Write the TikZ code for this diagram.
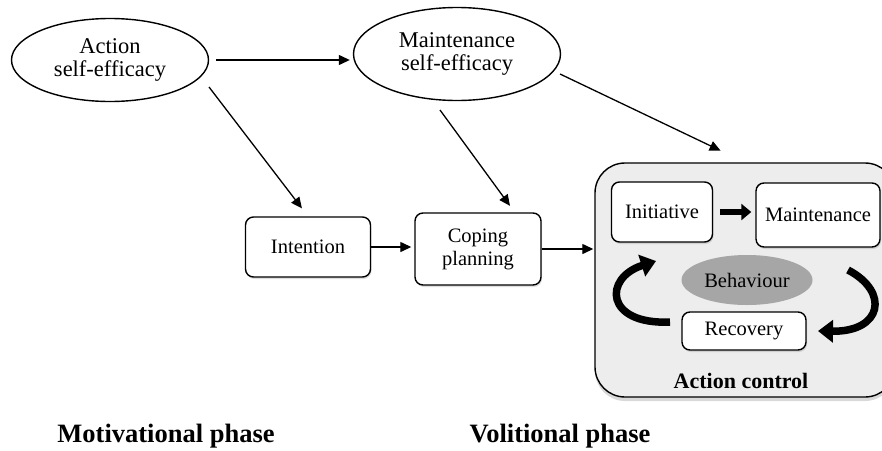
\documentclass[tikz,border=0pt]{standalone}
\usepackage{fontspec}
\setmainfont{Liberation Serif}
\usetikzlibrary{shapes.geometric,arrows.meta,shadows}

\tikzset{
  txt/.style={font=\fontsize{20.5}{23}\selectfont, align=center, inner sep=0pt},
  oval/.style={ellipse, draw, line width=1.4pt, fill=white, txt,
    font=\fontsize{22.5}{23}\selectfont},
  box/.style={rectangle, draw, line width=1.4pt, rounded corners=8pt, fill=white, txt,
    drop shadow={shadow xshift=1pt, shadow yshift=-2pt, opacity=0.25}},
  arr/.style={line width=1.3pt, -{Triangle[length=11pt,width=10pt]}},
  fatarr/.style={line width=6pt, -{Triangle[length=10pt,width=16pt]}},
  curvearr/.style={line width=7.5pt, -{Triangle[length=15pt,width=22pt]}},
  phase/.style={font=\fontsize{26.5}{28}\selectfont\bfseries, inner sep=0pt},
}

\begin{document}
\begin{tikzpicture}[x=1pt, y=-1pt]
  \useasboundingbox (0,0) rectangle (882,450);

  % action control container
  \node[rectangle, draw, line width=1.4pt, rounded corners=30pt, fill=black!7,
        minimum width=300pt, minimum height=234pt, inner sep=0pt,
        drop shadow={shadow xshift=0pt, shadow yshift=-4pt, opacity=0.3}]
        (ac) at (745,280) {};
  \node[font=\fontsize{22}{24}\selectfont\bfseries, inner sep=0pt] (aclabel) at (741,381) {Action control};

  % self-efficacy ellipses
  \node[oval, minimum width=197pt, minimum height=83pt] (ase) at (110,60) {Action\\self-efficacy};
  \node[oval, minimum width=207pt, minimum height=93pt] (mse) at (457,54) {Maintenance\\self-efficacy};

  % motivational and volitional boxes
  \node[box, minimum width=125pt, minimum height=60pt] (int) at (308,247) {Intention};
  \node[box, minimum width=126pt, minimum height=72pt] (cop) at (478,249) {Coping\\planning};

  % inner boxes of action control
  \node[box, minimum width=101pt, minimum height=60pt] (ini) at (662,212) {Initiative};
  \node[box, minimum width=124pt, minimum height=64pt] (mai) at (818,215) {Maintenance};
  \node[ellipse, fill=black!35, minimum width=131pt, minimum height=50pt, txt] (beh) at (747,280) {Behaviour};
  \node[box, minimum width=124pt, minimum height=38pt] (rec) at (744,331) {Recovery};

  % free ends of the diagonal connectors
  \coordinate (s1) at (209,87);
  \coordinate (s2) at (440,110);
  \coordinate (s3) at (560,74);

  % connectors
  \draw[arr, shorten <=7pt, shorten >=3pt] (ase.east) -- (ase.east -| mse.west);
  \draw[arr, shorten >=10pt] (s1) -- (int.north);
  \draw[arr, shorten >=8pt] (s2) -- (cop.45);
  \draw[arr, shorten >=27pt] (s3) -- (ac.north);
  \draw[arr, shorten >=3pt] (int.east) -- (int.east -| cop.west);
  \draw[arr, shorten >=1pt] (cop.east) -- (cop.east -| ac.west);
  \draw[fatarr, shorten <=7pt, shorten >=4pt] (ini.east) -- (ini.east -| mai.west);

  % cycle arrows around the behaviour
  \coordinate (l1) at (670,322);
  \coordinate (l2) at (656,261);
  \coordinate (r1) at (848,270);
  \coordinate (r2) at (818,331);
  \draw[curvearr] (l1) .. controls (605,325) and (603,278) .. (l2);
  \draw[curvearr] (r1) .. controls (890,292) and (882,332) .. (r2);

  % phase labels
  \node[phase] (mot) at (166,436) {Motivational phase};
  \node[phase] (vol) at (560,436) {Volitional phase};
\end{tikzpicture}
\end{document}
